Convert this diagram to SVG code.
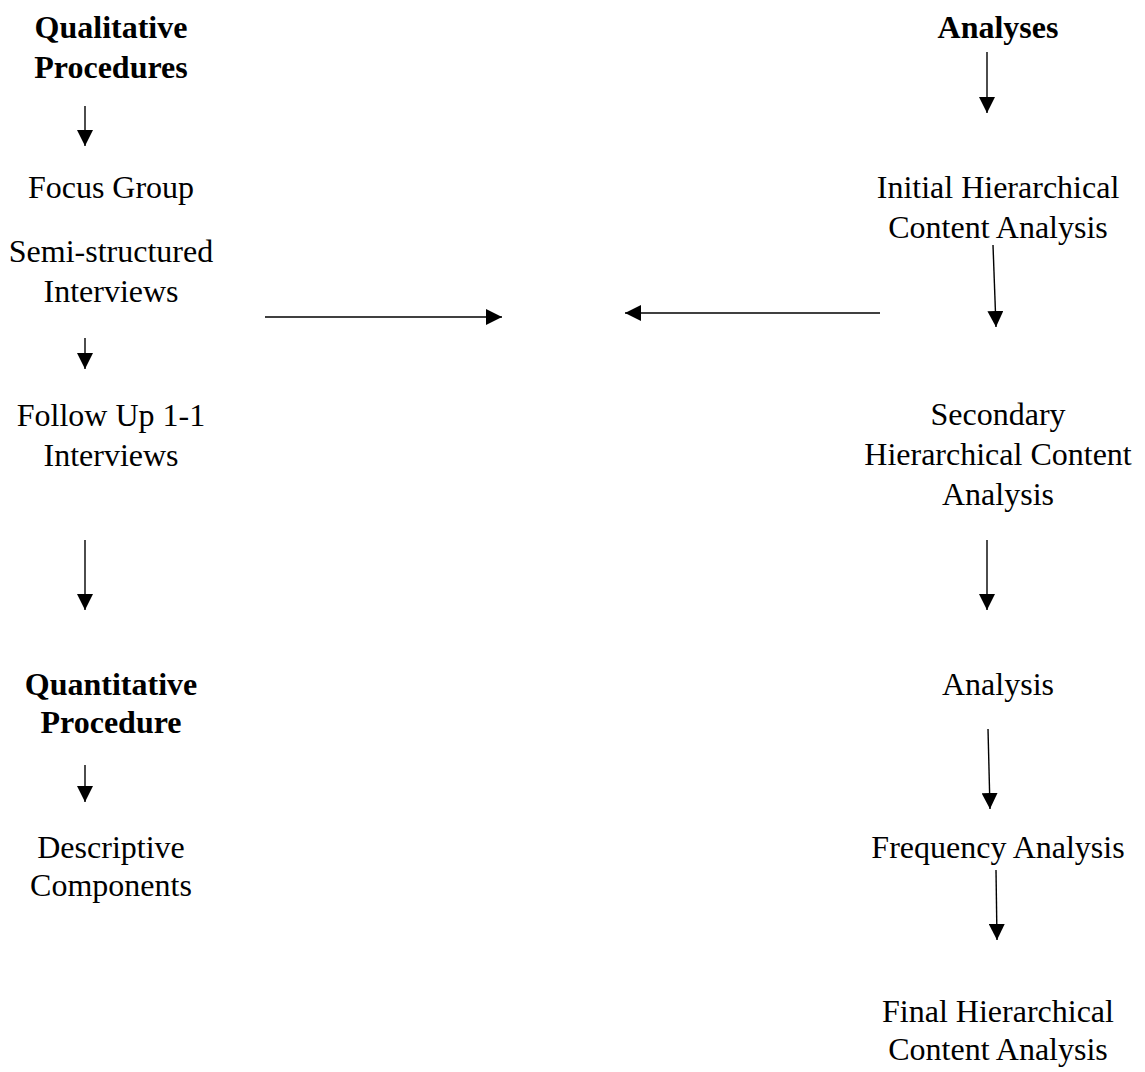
<svg xmlns="http://www.w3.org/2000/svg" width="1145" height="1072" viewBox="0 0 1145 1072">
<style>
text{font-family:"Liberation Serif","Times New Roman",serif;font-size:32px;fill:#000;text-anchor:middle}
.b{font-weight:bold}
.c line{stroke:#000;stroke-width:1.4;fill:none}
</style>
<defs>
<marker id="ah" markerUnits="userSpaceOnUse" markerWidth="16" markerHeight="16" viewBox="0 0 16 16" refX="16" refY="8" orient="auto">
<path d="M0,0 L16,8 L0,16 Z" fill="#000"/>
</marker>
</defs>
<rect width="1145" height="1072" fill="#fff"/>
<g id="qual"><text class="b" x="111" y="38">Qualitative</text><text class="b" x="111" y="78">Procedures</text></g>
<g id="focus"><text x="111" y="198">Focus Group</text></g>
<g id="semi"><text x="111" y="262">Semi-structured</text><text x="111" y="302">Interviews</text></g>
<g id="follow"><text x="111" y="426">Follow Up 1-1</text><text x="111" y="466">Interviews</text></g>
<g id="quant"><text class="b" x="111" y="695">Quantitative</text><text class="b" x="111" y="733">Procedure</text></g>
<g id="desc"><text x="111" y="858">Descriptive</text><text x="111" y="896">Components</text></g>
<g id="analyses"><text class="b" x="998" y="38">Analyses</text></g>
<g id="initial"><text x="998" y="198">Initial Hierarchical</text><text x="998" y="238">Content Analysis</text></g>
<g id="secondary"><text x="998" y="425">Secondary</text><text x="998" y="465">Hierarchical Content</text><text x="998" y="505">Analysis</text></g>
<g id="analysis"><text x="998" y="695">Analysis</text></g>
<g id="frequency"><text x="998" y="858">Frequency Analysis</text></g>
<g id="final"><text x="998" y="1022">Final Hierarchical</text><text x="998" y="1060">Content Analysis</text></g>
<g class="c" id="connectors">
<line x1="85" y1="106" x2="85" y2="146" marker-end="url(#ah)"/>
<line x1="85" y1="338" x2="85" y2="369" marker-end="url(#ah)"/>
<line x1="85" y1="540" x2="85" y2="610" marker-end="url(#ah)"/>
<line x1="85" y1="765" x2="85" y2="802" marker-end="url(#ah)"/>
<line x1="265" y1="317" x2="502" y2="317" marker-end="url(#ah)"/>
<line x1="880" y1="313" x2="625" y2="313" marker-end="url(#ah)"/>
<line x1="987" y1="52" x2="987" y2="113" marker-end="url(#ah)"/>
<line x1="993" y1="245" x2="996" y2="327" marker-end="url(#ah)"/>
<line x1="987" y1="540" x2="987" y2="610" marker-end="url(#ah)"/>
<line x1="988" y1="729" x2="990" y2="809" marker-end="url(#ah)"/>
<line x1="996" y1="870" x2="997" y2="940" marker-end="url(#ah)"/>
</g>
</svg>
